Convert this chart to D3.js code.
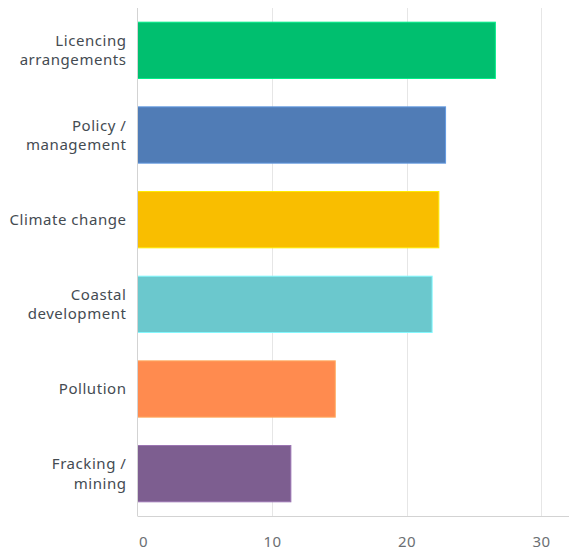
<!DOCTYPE html>
<html>
<head>
<meta charset="utf-8">
<script src="https://cdn.jsdelivr.net/npm/d3@7"></script>
<style>
  html, body { margin: 0; padding: 0; background: #fff; }
  svg { display: block; }
  text { font-family: "Noto Sans", "Open Sans", sans-serif; letter-spacing: 0.55px; }
</style>
</head>
<body>
<svg id="chart" width="569" height="554"></svg>
<script>
// Issue categories (each label split into display lines) and their scores
const categories = [
  ["Licencing", "arrangements"],
  ["Policy /", "management"],
  ["Climate change"],
  ["Coastal", "development"],
  ["Pollution"],
  ["Fracking /", "mining"]
];
const values = [26.6, 22.9, 22.4, 21.9, 14.7, 11.4];
const colors = ["#00bf6f", "#507cb6", "#f9be00", "#6bc8cd", "#ff8b4f", "#7d5e90"];
const tickValues = [0, 10, 20, 30];

const width = 569, height = 554;
const margin = { top: 8, right: 1, bottom: 38, left: 137.5 };

const svg = d3.select("#chart");

const x = d3.scaleLinear()
  .domain([0, 32])
  .range([margin.left, width - margin.right]);

const y = d3.scaleBand()
  .domain(d3.range(categories.length))
  .range([margin.top, height - margin.bottom])
  .paddingInner(0.335)
  .paddingOuter(0.1675);

// vertical gridlines
svg.append("g")
  .selectAll("line")
  .data(tickValues.slice(1))
  .join("line")
  .attr("x1", d => Math.round(x(d)) + 0.5)
  .attr("x2", d => Math.round(x(d)) + 0.5)
  .attr("y1", margin.top)
  .attr("y2", height - margin.bottom)
  .attr("stroke", "#e6e6e6")
  .attr("stroke-width", 1);

// bars
svg.append("g")
  .selectAll("rect")
  .data(values)
  .join("rect")
  .attr("x", x(0))
  .attr("y", (d, i) => y(i))
  .attr("width", d => x(d) - x(0))
  .attr("height", y.bandwidth())
  .attr("fill", (d, i) => colors[i])
  .attr("stroke", (d, i) => d3.color(colors[i]).brighter(0.6))
  .attr("stroke-width", 1);

// left and bottom axis lines
svg.append("line")
  .attr("x1", margin.left).attr("x2", margin.left)
  .attr("y1", margin.top).attr("y2", height - margin.bottom)
  .attr("stroke", "#d3d3d3");
svg.append("line")
  .attr("x1", margin.left).attr("x2", width)
  .attr("y1", height - margin.bottom + 0.5).attr("y2", height - margin.bottom + 0.5)
  .attr("stroke", "#d3d3d3");

// x tick labels
const xAxis = d3.axisBottom(x).tickValues(tickValues).tickSize(0).tickPadding(20);
const gx = svg.append("g")
  .attr("transform", `translate(0,${height - margin.bottom})`)
  .call(xAxis);
gx.select(".domain").remove();
gx.selectAll("text")
  .attr("fill", "#6b6f73")
  .attr("font-size", 15)
  .attr("font-family", "\"Noto Sans\", \"Open Sans\", sans-serif")
  .attr("text-anchor", d => d === 0 ? "start" : "middle")
  .attr("dx", d => d === 0 ? 1 : 0);

// category labels, right aligned against the axis
const labels = svg.append("g")
  .selectAll("text")
  .data(categories)
  .join("text")
  .attr("text-anchor", "end")
  .attr("fill", "#444b52")
  .attr("font-size", 15)
  .attr("x", margin.left - 11)
  .attr("y", (d, i) => y(i) + y.bandwidth() / 2);

labels.selectAll("tspan")
  .data(d => d.map((line, j) => ({ line, j, n: d.length })))
  .join("tspan")
  .attr("x", margin.left - 11)
  .attr("dy", d => d.j === 0 ? `${(0.35 - (d.n - 1) * 0.65)}em` : "1.3em")
  .text(d => d.line);
</script>
</body>
</html>
